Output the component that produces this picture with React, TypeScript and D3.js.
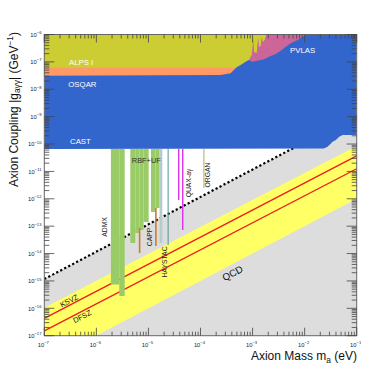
import React from "react";
import * as d3 from "d3";

// axis ranges (log)
const massDomain = [1e-7, 1e-1];
const couplingDomain = [1e-17, 1e-6];
const massDecades = [-7, -6, -5, -4, -3, -2, -1];
const couplingDecades = [-17, -16, -15, -14, -13, -12, -11, -10, -9, -8, -7, -6];

// model lines [mass eV, coupling GeV^-1]
const ksvzLine = [[1e-7, 4.3e-17], [1e-1, 3.7e-11]];
const dfszLine = [[1e-7, 1.5e-17], [1e-1, 1.25e-11]];
const qcdUpper = [[1e-7, 1.05e-16], [1e-1, 8.5e-11]];
const qcdLower = [[1e-7, 1e-18], [1e-1, 1e-12]];
const dottedBound = [[1e-7, 1.17e-15], [1e-1, 1.17e-9]];

// exclusion limits
const castLimit = [
  [1e-7, 6.6e-11], [0.0234, 6.8e-11], [0.0276, 8e-11], [0.0345, 1.22e-10],
  [0.0399, 1.41e-10], [0.0462, 1.85e-10], [0.0537, 2.14e-10], [0.1, 2.14e-10],
];
const osqarLimit = [
  [1e-7, 3.1e-8], [2.43e-4, 3.33e-8], [3.79e-4, 3.84e-8], [4.72e-4, 5.8e-8], [4.9e-4, 6.3e-8],
];
const alpsLimit = [
  [1e-7, 6.1e-8], [4.72e-4, 6.1e-8], [5.9e-4, 7.7e-8], [7.36e-4, 1.02e-7], [8.5e-4, 1.17e-7],
  [9.62e-4, 1.79e-7], [1.03e-3, 6.3e-7], [1.07e-3, 2.3e-7], [1.2e-3, 2.11e-7],
  [1.28e-3, 7.46e-7], [1.34e-3, 3.5e-7], [1.43e-3, 3.8e-7], [1.5e-3, 8.1e-7],
  [1.57e-3, 5.33e-7], [1.71e-3, 6.3e-7], [1.83e-3, 1e-6],
];
const pvlasLimit = [
  [8.5e-4, 1.17e-7], [9.9e-4, 1.02e-7], [1.24e-3, 1.11e-7], [1.66e-3, 1.24e-7],
  [2.23e-3, 1.64e-7], [2.79e-3, 1.95e-7], [3.47e-3, 2.57e-7], [4.35e-3, 3.59e-7],
  [5.42e-3, 4.78e-7], [7.3e-3, 6.3e-7], [1.05e-2, 9.6e-7], [1.1e-2, 1e-6],
];

// haloscope bands [mass lo, mass hi, lower coupling]
const admxBands = [
  [1.9e-6, 2.75e-6, 7.4e-16], [2.75e-6, 3.5e-6, 2.8e-16],
];
const rbfUfBands = [
  [4.48e-6, 5.59e-6, 2.43e-14], [5.59e-6, 6.68e-6, 5.64e-14], [6.68e-6, 8.08e-6, 7.25e-14],
  [8.08e-6, 1.01e-5, 1.42e-13], [1.12e-5, 1.36e-5, 3.3e-13], [1.36e-5, 1.64e-5, 4.6e-13],
];
const greyBand = [[1.64e-5, 1.85e-5, 2.43e-14]];
// single-mass limits [mass, coupling lo, coupling hi]
const cappLines = [[6.77e-6, 1.05e-14, 8.6e-14], [1.39e-5, 1.89e-14, 4.6e-13]];
const haystacLines = [[2.39e-5, 2.05e-14, 6.6e-11]];
const quaxLines = [[3.82e-5, 9.04e-13, 6.6e-11], [4.56e-5, 7.25e-14, 6.6e-11]];
const organLines = [[1.16e-4, 2.48e-12, 6.6e-11]];

const W = 390, H = 377;
const X0 = 44.3, X1 = 356.7, Y0 = 335.7, Y1 = 34.5;
const FONT = "'Liberation Sans', Arial, Helvetica, sans-serif";

const x = d3.scaleLog().domain(massDomain).range([X0, X1]);
const y = d3.scaleLog().domain(couplingDomain).range([Y0, Y1]);
const gTop = couplingDomain[1];
const gBot = couplingDomain[0];

const line = d3.line<number[]>().x((d) => x(d[0])).y((d) => y(d[1]));
const areaUp = d3.area<number[]>().x((d) => x(d[0])).y0(y(gTop)).y1((d) => y(d[1]));
const areaDown = d3.area<number[]>().x((d) => x(d[0])).y0(y(gBot)).y1((d) => y(d[1]));
const bandPath = (up: number[][], lo: number[][]) =>
  "M" + up.map((d) => `${x(d[0])},${y(d[1])}`).join("L") +
  "L" + lo.slice().reverse().map((d) => `${x(d[0])},${y(d[1])}`).join("L") + "Z";

// y position of a straight log-log line at pixel px
const lineYAt = (l: number[][], px: number) => {
  const t = (px - x(l[0][0])) / (x(l[1][0]) - x(l[0][0]));
  return y(l[0][1]) + t * (y(l[1][1]) - y(l[0][1]));
};

const minors = (decs: number[], dom: number[]) => {
  const out: number[] = [];
  decs.forEach((e) => d3.range(2, 10).forEach((k) => {
    const v = k * Math.pow(10, e);
    if (v > dom[0] && v < dom[1]) out.push(v);
  }));
  return out;
};

const Pow = ({ e, fs }: { e: number; fs: number }) => (
  <>
    10<tspan fontSize={fs * 0.72} dy={-fs * 0.45}>{`\u2212${Math.abs(e)}`}</tspan>
  </>
);

const BandRects = ({ bands, fill }: { bands: number[][]; fill: string }) => (
  <>
    {bands.map((b, i) => (
      <rect key={i} x={x(b[0])} y={y(castLimit[0][1])} width={x(b[1]) - x(b[0])}
        height={y(b[2]) - y(castLimit[0][1])} fill={fill} />
    ))}
  </>
);

const VLines = ({ lines, stroke, w }: { lines: number[][]; stroke: string; w: number }) => (
  <>
    {lines.map((l, i) => (
      <line key={i} x1={x(l[0])} x2={x(l[0])} y1={y(l[1])} y2={y(l[2])} stroke={stroke} strokeWidth={w} />
    ))}
  </>
);

const slopeDeg = (Math.atan2(lineYAt(ksvzLine, X1) - lineYAt(ksvzLine, X0), X1 - X0) * 180) / Math.PI;

const App = () => {
  const tickCol = "#444";
  const xMinor = minors(massDecades, massDomain);
  const yMinor = minors(couplingDecades, couplingDomain);
  const rotLabel = (px: number, py: number, text: string) => (
    <text key={text} transform={`translate(${px},${py}) rotate(-90)`} textAnchor="middle"
      dominantBaseline="middle" fontSize={6.8} fill="#222">{text}</text>
  );
  return (
    <svg width={W} height={H} style={{ position: "absolute", left: 0, top: 0, background: "#fff" }}
      fontFamily={FONT}>
      <defs>
        <clipPath id="plot">
          <rect x={X0} y={Y1} width={X1 - X0} height={Y0 - Y1} />
        </clipPath>
      </defs>
      <g clipPath="url(#plot)">
        <path d={areaDown(dottedBound) || ""} fill="#dddddd" />
        <path d={bandPath(qcdUpper, qcdLower)} fill="#ffff66" />
        <path d={line(ksvzLine) || ""} stroke="#ee1c1c" strokeWidth={1.3} fill="none" />
        <path d={line(dfszLine) || ""} stroke="#ee1c1c" strokeWidth={1.3} fill="none" />
        <path d={line(dottedBound) || ""} stroke="#000" strokeWidth={2.2} strokeDasharray="2.2,2.3" fill="none" />
        <BandRects bands={admxBands} fill="#99cc66" />
        <BandRects bands={rbfUfBands} fill="#99cc66" />
        <BandRects bands={greyBand} fill="#b4cccc" />
        <VLines lines={cappLines} stroke="#cc7a33" w={1.6} />
        <VLines lines={haystacLines} stroke="#4f9494" w={1} />
        <VLines lines={quaxLines} stroke="#dd22ee" w={1.3} />
        <VLines lines={organLines} stroke="#cccc99" w={1.6} />
        <path d={areaUp(castLimit) || ""} fill="#3366cc" />
        <path d={areaUp(pvlasLimit) || ""} fill="#cc6699" />
        <path d={areaUp(osqarLimit) || ""} fill="#ff9966" />
        <path d={areaUp(alpsLimit) || ""} fill="#cccc33" />
      </g>

      {/* region labels */}
      <g fill="#fff" fontSize={7.8}>
        <text x={69} y={65}>ALPS I</text>
        <text x={68.3} y={86.7}>OSQAR</text>
        <text x={70} y={144}>CAST</text>
        <text x={290} y={52.7}>PVLAS</text>
      </g>
      <text x={146.3} y={162.5} textAnchor="middle" fontSize={7.4} fill="#333">RBF+UF</text>
      {rotLabel(105, 227, "ADMX")}
      {rotLabel(150, 237, "CAPP")}
      {rotLabel(165, 262, "HAYSTAC")}
      {rotLabel(189, 183, "QUAX-a\u03b3")}
      {rotLabel(208, 175, "ORGAN")}
      <g fill="#111" textAnchor="middle">
        <text transform={`translate(71,${lineYAt(ksvzLine, 71)}) rotate(${slopeDeg})`} y={-1.6} fontSize={7.4}>KSVZ</text>
        <text transform={`translate(80,${lineYAt(dfszLine, 80)}) rotate(${slopeDeg})`} y={7.2} fontSize={7.4}>DFSZ</text>
        <text transform={`translate(233,274) rotate(${slopeDeg})`} dominantBaseline="middle" fontSize={9.8}>QCD</text>
      </g>

      {/* frame and ticks */}
      <rect x={X0} y={Y1} width={X1 - X0} height={Y0 - Y1} fill="none" stroke="#666" strokeWidth={1} />
      <g stroke={tickCol} strokeWidth={0.8}>
        {massDecades.map((e) => {
          const px = x(Math.pow(10, e));
          return (
            <g key={"xm" + e}>
              <line x1={px} x2={px} y1={Y0} y2={Y0 - 8} />
              <line x1={px} x2={px} y1={Y1} y2={Y1 + 8} />
            </g>
          );
        })}
        {xMinor.map((v, i) => (
          <g key={"xn" + i}>
            <line x1={x(v)} x2={x(v)} y1={Y0} y2={Y0 - 4} />
            <line x1={x(v)} x2={x(v)} y1={Y1} y2={Y1 + 4} />
          </g>
        ))}
        {couplingDecades.map((e) => {
          const py = y(Math.pow(10, e));
          return (
            <g key={"ym" + e}>
              <line x1={X0} x2={X0 + 10} y1={py} y2={py} />
              <line x1={X1} x2={X1 - 10} y1={py} y2={py} />
            </g>
          );
        })}
        {yMinor.map((v, i) => (
          <g key={"yn" + i}>
            <line x1={X0} x2={X0 + 5} y1={y(v)} y2={y(v)} />
            <line x1={X1} x2={X1 - 5} y1={y(v)} y2={y(v)} />
          </g>
        ))}
      </g>
      <g fontSize={5.8} fill="#222">
        {massDecades.map((e) => (
          <text key={"xl" + e} x={x(Math.pow(10, e)) - 1} y={347} textAnchor="middle">
            <Pow e={e} fs={5.8} />
          </text>
        ))}
        {couplingDecades.map((e) => (
          <text key={"yl" + e} x={41.5} y={y(Math.pow(10, e)) + 2.2} textAnchor="end">
            <Pow e={e} fs={5.8} />
          </text>
        ))}
      </g>

      {/* axis titles */}
      <text x={357} y={360} textAnchor="end" fontSize={12} fill="#111">
        Axion Mass m<tspan fontSize={8.4} dy={2.8}>a</tspan><tspan dy={-2.8}> (eV)</tspan>
      </text>
      <text transform="translate(17.5,32) rotate(-90)" textAnchor="end" fontSize={12} fill="#111">
        Axion Coupling |g<tspan fontSize={8.4} dy={2.8}>a{"\u03b3\u03b3"}</tspan>
        <tspan dy={-2.8}>| (GeV</tspan><tspan fontSize={8.4} dy={-4.5}>{"\u22121"}</tspan>
        <tspan dy={4.5}>)</tspan>
      </text>
    </svg>
  );
};

export default App;
